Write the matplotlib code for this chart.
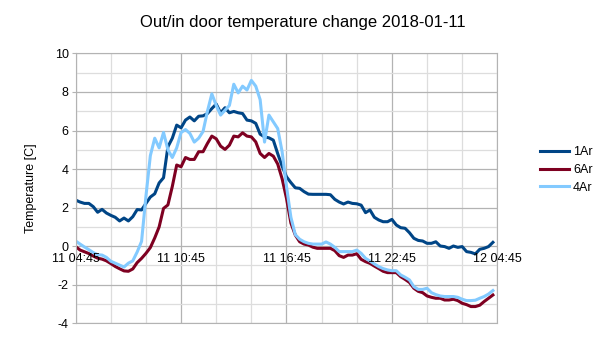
import matplotlib
matplotlib.use("Agg")
import matplotlib.pyplot as plt
import pandas as pd

plt.rcParams["font.family"] = ["Liberation Sans", "DejaVu Sans"]

# 15 minute readings, 2018-01-11 04:45 .. 2018-01-12 04:30
times = pd.date_range("2018-01-11 04:45", periods=96, freq="15min")

ar1 = [2.39, 2.29, 2.22, 2.22, 2.05, 1.76, 1.91, 1.72, 1.60, 1.50, 1.31, 1.46,
       1.31, 1.53, 1.90, 1.88, 2.22, 2.55, 2.72, 3.28, 3.55, 5.16, 5.60, 6.28,
       6.14, 6.54, 6.70, 6.50, 6.74, 6.76, 6.88, 7.14, 7.37, 6.92, 7.18, 6.92,
       6.99, 6.92, 6.88, 6.54, 6.50, 6.37, 5.81, 5.67, 5.62, 5.50, 4.80, 4.15,
       3.60, 3.30, 3.03, 3.00, 2.83, 2.70, 2.69, 2.69, 2.69, 2.69, 2.67, 2.43,
       2.29, 2.19, 2.29, 2.22, 2.20, 2.13, 1.74, 1.88, 1.50, 1.36, 1.27, 1.27,
       1.39, 1.10, 0.96, 0.93, 0.70, 0.41, 0.30, 0.27, 0.15, 0.15, 0.23, 0.01,
       -0.02, -0.11, 0.01, -0.06, -0.02, -0.28, -0.32, -0.40, -0.16, -0.11, -0.02, 0.20]

ar6 = [-0.02, -0.20, -0.29, -0.38, -0.51, -0.62, -0.67, -0.76, -0.90, -1.05, -1.17, -1.28,
       -1.30, -1.18, -0.85, -0.63, -0.37, -0.07, 0.43, 1.00, 1.96, 2.14, 3.10, 4.21,
       4.12, 4.60, 4.50, 4.50, 4.90, 4.90, 5.33, 5.71, 5.57, 5.19, 5.02, 5.24,
       5.71, 5.67, 5.88, 5.71, 5.67, 5.41, 4.81, 4.60, 4.81, 4.67, 4.26, 3.50,
       2.48, 1.20, 0.58, 0.23, 0.11, 0.06, -0.05, -0.11, -0.11, -0.11, -0.11, -0.23,
       -0.49, -0.58, -0.46, -0.46, -0.39, -0.68, -0.80, -0.89, -1.03, -1.16, -1.30, -1.37,
       -1.37, -1.37, -1.58, -1.72, -1.88, -2.18, -2.34, -2.41, -2.58, -2.65, -2.70, -2.70,
       -2.79, -2.79, -2.75, -2.82, -2.96, -3.03, -3.13, -3.13, -3.06, -2.87, -2.70, -2.53]

ar4 = [0.27, 0.11, -0.04, -0.18, -0.33, -0.44, -0.46, -0.58, -0.78, -0.88, -0.98, -1.08,
       -0.88, -0.76, -0.30, 0.25, 2.60, 4.70, 5.60, 5.10, 5.90, 5.00, 4.60, 5.10,
       5.90, 6.05, 5.85, 5.40, 5.60, 5.95, 7.00, 7.90, 7.30, 6.80, 7.05, 7.30,
       8.40, 7.95, 8.30, 8.10, 8.60, 8.30, 7.60, 5.40, 6.80, 6.45, 6.10, 4.90,
       3.10, 1.50, 0.60, 0.36, 0.23, 0.15, 0.11, 0.11, 0.11, 0.22, 0.11, -0.06,
       -0.28, -0.28, -0.28, -0.28, -0.20, -0.37, -0.63, -0.77, -0.92, -1.06, -1.16, -1.23,
       -1.27, -1.27, -1.49, -1.61, -1.75, -2.10, -2.24, -2.24, -2.18, -2.41, -2.51, -2.58,
       -2.61, -2.61, -2.61, -2.65, -2.75, -2.82, -2.82, -2.80, -2.70, -2.61, -2.48, -2.30]

series_names = ["1Ar", "6Ar", "4Ar"]
series_colors = ["#004586", "#7e0021", "#83caff"]

tick_times = pd.to_datetime(["2018-01-11 04:45", "2018-01-11 10:45", "2018-01-11 16:45",
                             "2018-01-11 22:45", "2018-01-12 04:45"])
tick_labels = ["11 04:45", "11 10:45", "11 16:45", "11 22:45", "12 04:45"]
minor_times = pd.date_range("2018-01-11 04:45", "2018-01-12 04:45", freq="2h")

fig = plt.figure(figsize=(6.05, 3.40), dpi=100)
ax = fig.add_axes([0.1251, 0.049, 0.6969, 0.794])

ax.set_xlim(tick_times[0], tick_times[-1])
ax.set_ylim(-4, 10)
ax.set_xticks(tick_times)
ax.set_xticks(minor_times, minor=True)
ax.set_yticks(range(-4, 11, 2))
ax.set_yticks(range(-4, 11, 1), minor=True)
ax.set_yticklabels([str(v) for v in range(-4, 11, 2)], fontsize=9)
ax.tick_params(axis="x", which="both", length=0, labelbottom=False)
ax.tick_params(axis="y", which="major", length=3, color="#b3b3b3", pad=2)
ax.tick_params(axis="y", which="minor", length=0)

ax.grid(which="major", color="#b3b3b3", lw=0.9)
ax.grid(which="minor", color="#dddddd", lw=0.9)
ax.set_axisbelow(True)
for s in ax.spines.values():
    s.set_color("#b3b3b3")

for vals, name, col in zip([ar1, ar6, ar4], series_names, series_colors):
    ax.plot(times, vals, color=col, lw=2.2, label=name, solid_joinstyle="round")

# x labels sit on the zero line, as in the original spreadsheet chart
for t, lab in zip(tick_times, tick_labels):
    ax.annotate(lab, (t, 0), xytext=(0, -5), textcoords="offset points",
                ha="center", va="top", fontsize=9, annotation_clip=False)

ax.set_ylabel("Temperature [C]", fontsize=9)
ax.yaxis.set_label_coords(-0.092, 0.5)

fig.text(0.5, 0.935, "Out/in door temperature change 2018-01-11",
         ha="center", va="center", fontsize=12)

fig.legend(loc="center left", bbox_to_anchor=(0.885, 0.5), frameon=False,
           fontsize=9, handlelength=2.3, handletextpad=0.3, labelspacing=0.45,
           borderaxespad=0)

fig.savefig("out.png", dpi=100, facecolor="white")
